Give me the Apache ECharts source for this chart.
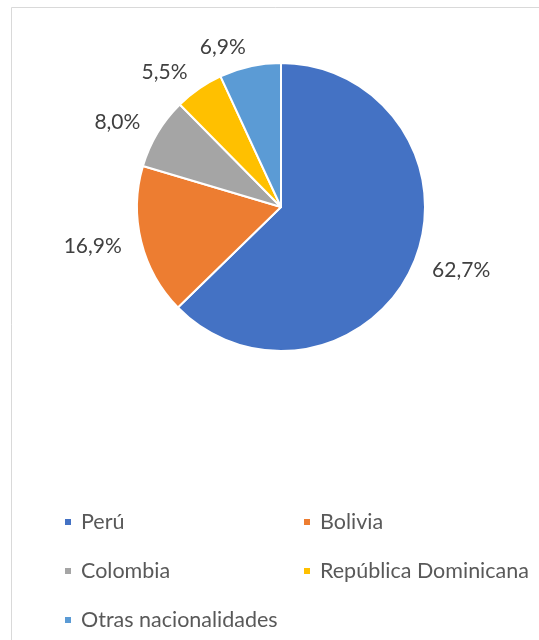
<!DOCTYPE html>
<html><head><meta charset="utf-8">
<script src="https://cdn.jsdelivr.net/npm/echarts@6/dist/echarts.min.js"></script>
<style>html,body{margin:0;padding:0;background:#fff}#c{width:539px;height:640px}</style>
</head><body><div id="c"></div>
<script>
const categories = ['Perú', 'Bolivia', 'Colombia', 'República Dominicana', 'Otras nacionalidades'];
const values = [62.7, 16.9, 8.0, 5.5, 6.9];
const colors = ['#4472C4', '#ED7D31', '#A5A5A5', '#FFC000', '#5B9BD5'];

const chart = echarts.init(document.getElementById('c'));
const font = 'Lato, "Liberation Sans", sans-serif';
chart.setOption({
  animation: false,
  graphic: [{
    type: 'rect', silent: true, z: -10,
    shape: { x: 11.5, y: 7.5, width: 700, height: 800 },
    style: { fill: '#fff', stroke: '#d9d9d9', lineWidth: 1 }
  }],
  legend: {
    left: 58, top: 505, width: 490,
    itemWidth: 8, itemHeight: 8, itemGap: 25,
    icon: 'rect',
    textStyle: { fontFamily: font, fontSize: 21.5, color: '#595959', width: 196, lineHeight: 24, padding: [0, 0, 0, 4] },
    data: categories
  },
  series: [{
    type: 'pie',
    center: [281, 207],
    radius: 144,
    startAngle: 90,
    clockwise: true,
    avoidLabelOverlap: false,
    itemStyle: { borderColor: '#fff', borderWidth: 2 },
    label: {
      show: true, position: 'outside', distanceToLabelLine: 0,
      fontFamily: font, fontSize: 21, color: '#404040',
      formatter: p => p.value.toFixed(1).replace('.', ',') + '%'
    },
    labelLine: { show: false, length: 20, length2: 0 },
    data: categories.map((c, i) => ({ name: c, value: values[i], itemStyle: { color: colors[i] } }))
  }]
});
</script></body></html>
